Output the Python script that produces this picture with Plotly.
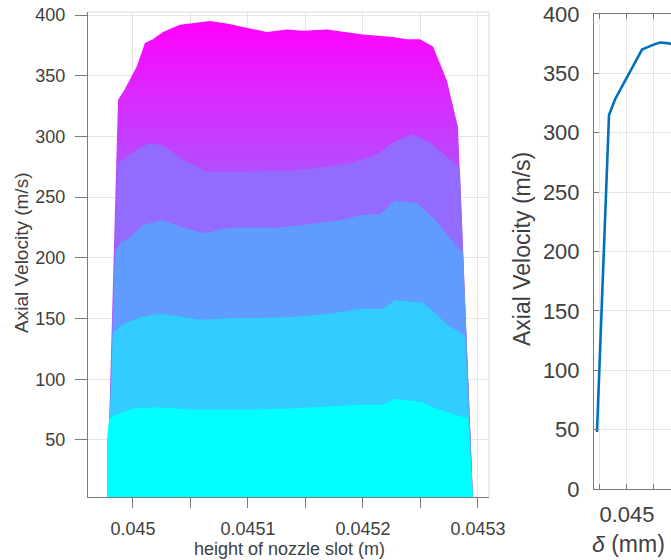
import plotly.graph_objects as go

# ---- velocity profiles across the nozzle slot (m, m/s), drawn back to front ----
slot_h_5 = [0.0449774, 0.0449870, 0.0449930, 0.0450035, 0.0450104, 0.0450174, 0.0450261,
            0.0450409, 0.0450583, 0.0450670, 0.0450817, 0.0451017, 0.0451165, 0.0451339,
            0.0451478, 0.0451687, 0.0452000, 0.0452261, 0.0452383, 0.0452496, 0.0452609,
            0.0452730, 0.0452826, 0.0452957]
vel_5 = [0, 330, 339, 358, 377, 380, 386, 392, 394, 395, 393, 389, 386, 388, 387, 388,
         384, 382, 380, 380, 374, 346, 308, 0]

slot_h_4 = [0.0449774, 0.0449870, 0.0450000, 0.0450130, 0.0450261, 0.0450435, 0.0450643,
            0.0451017, 0.0451365, 0.0451600, 0.0451887, 0.0452122, 0.0452261, 0.0452435,
            0.0452583, 0.0452730, 0.0452843, 0.0452957]
vel_4 = [0, 278, 287, 294, 293, 281, 271, 271, 272, 274, 278, 285, 295, 302, 295, 283, 274, 0]

slot_h_3 = [0.0449774, 0.0449843, 0.0449904, 0.0449974, 0.0450087, 0.0450252, 0.0450435,
            0.0450626, 0.0450783, 0.0450930, 0.0451278, 0.0451565, 0.0451800, 0.0451974,
            0.0452148, 0.0452278, 0.0452470, 0.0452609, 0.0452757, 0.0452870, 0.0452957]
vel_3 = [0, 206, 213, 217, 227, 231, 225, 220, 224, 225, 225, 228, 231, 235, 236, 247,
         245, 233, 216, 204, 0]

slot_h_2 = [0.0449774, 0.0449826, 0.0449913, 0.0450061, 0.0450235, 0.0450383, 0.0450583,
            0.0450783, 0.0451365, 0.0451713, 0.0451974, 0.0452174, 0.0452278, 0.0452522,
            0.0452609, 0.0452730, 0.0452887, 0.0452957]
vel_2 = [0, 138, 145, 151, 154, 152, 149, 150, 151, 154, 158, 158, 165, 163, 156, 145, 136, 0]

slot_h_1 = [0.0449774, 0.0449774, 0.0449791, 0.0449809, 0.0449887, 0.0450000, 0.0450209,
            0.0450496, 0.0451017, 0.0451365, 0.0451974, 0.0452174, 0.0452278, 0.0452522,
            0.0452609, 0.0452730, 0.0452861, 0.0452913, 0.0452957]
vel_1 = [0, 50, 66, 69, 72, 76, 77, 75, 75, 76, 79, 79, 84, 81, 77, 73, 69, 68, 0]

# ---- velocity along delta ----
delta = [0.0449444, 0.0449667, 0.0449778, 0.0450000, 0.0450278, 0.0450481, 0.0450611,
         0.0450741, 0.0450900]
vel_delta = [48, 315, 328, 347, 370, 374, 376, 375.5, 374]

# ---- tick labels ----
x_ticks = [0.045, 0.04505, 0.0451, 0.04515, 0.0452, 0.04525, 0.0453]
x_tick_text = ["0.045", "", "0.0451", "", "0.0452", "", "0.0453"]
y_ticks = [50, 100, 150, 200, 250, 300, 350, 400]
delta_ticks = [0.04495, 0.045, 0.04505]
delta_tick_text = ["", "0.045", ""]
y2_ticks = [0, 50, 100, 150, 200, 250, 300, 350, 400]

W, H = 671, 560
FONT = "Liberation Sans, Arial, Helvetica, sans-serif"
TXT = "#404040"
GRID = "#e6e6e6"
AX = "#7a7a7a"

fig = go.Figure()

# back layer with vertical colour gradient (cool colormap, upper part)
fig.add_trace(go.Scatter(
    x=slot_h_5, y=vel_5, mode="none", fill="toself",
    fillgradient=dict(type="vertical", start=270, stop=393,
                      colorscale=[[0, "#B34DFF"], [0.5, "#D92BFF"], [1, "#FF00FF"]]),
    hoverinfo="skip", showlegend=False, xaxis="x", yaxis="y"))
layers = [(slot_h_4, vel_4, "#946BFF"), (slot_h_3, vel_3, "#609CFF"),
          (slot_h_2, vel_2, "#33CCFF"), (slot_h_1, vel_1, "#00FFFF")]
for xs, ys, col in layers:
    fig.add_trace(go.Scatter(x=xs, y=ys, mode="none", fill="toself", fillcolor=col,
                             hoverinfo="skip", showlegend=False, xaxis="x", yaxis="y"))

fig.add_trace(go.Scatter(x=delta, y=vel_delta, mode="lines",
                         line=dict(color="#0072BD", width=2.6),
                         showlegend=False, xaxis="x2", yaxis="y2"))

tick_font_l = dict(family=FONT, size=18, color=TXT)
tick_font_r = dict(family=FONT, size=22, color=TXT)

fig.update_layout(
    width=W, height=H, margin=dict(l=0, r=0, t=0, b=0, autoexpand=False),
    paper_bgcolor="white", plot_bgcolor="white",
    xaxis=dict(domain=[88 / W, 489 / W], range=[0.0449609, 0.0453096], anchor="y",
               automargin=False,
               tickmode="array", tickvals=x_ticks, ticktext=x_tick_text,
               ticks="outside", ticklen=10, tickcolor=AX, tickwidth=1,
               showline=True, linecolor=AX, linewidth=1,
               showgrid=True, gridcolor=GRID, zeroline=False,
               tickfont=tick_font_l, ticklabelstandoff=5),
    yaxis=dict(domain=[1 - 497 / H, 1 - 12 / H], range=[3, 402.5], anchor="x",
               automargin=False,
               tickmode="array", tickvals=y_ticks,
               ticks="outside", ticklen=12, tickcolor=AX, tickwidth=1,
               showline=True, linecolor=AX, linewidth=1,
               showgrid=True, gridcolor=GRID, zeroline=False,
               tickfont=tick_font_l, ticklabelstandoff=6),
    xaxis2=dict(domain=[594 / W, 1], range=[0.0449389, 0.0450815], anchor="y2",
                automargin=False,
                tickmode="array", tickvals=delta_ticks, ticktext=delta_tick_text,
                ticks="inside", ticklen=5, tickcolor=AX,
                showline=True, mirror="ticks", linecolor=AX, linewidth=1,
                showgrid=True, gridcolor=GRID, zeroline=False,
                tickfont=tick_font_r, ticklabelstandoff=6),
    yaxis2=dict(domain=[1 - 489 / H, 1 - 14 / H], range=[0, 400], anchor="x2",
                automargin=False,
                tickmode="array", tickvals=y2_ticks,
                ticks="inside", ticklen=5, tickcolor=AX,
                showline=True, mirror=False, linecolor=AX, linewidth=1,
                showgrid=True, gridcolor=GRID, zeroline=False,
                tickfont=tick_font_r, ticklabelstandoff=9),
    shapes=[
        dict(type="line", xref="x domain", yref="y domain", x0=0, x1=1, y0=1, y1=1,
             line=dict(color="#d9d9d9", width=1)),
        dict(type="line", xref="x domain", yref="y domain", x0=1, x1=1, y0=0, y1=1,
             line=dict(color="#d9d9d9", width=1)),
    ],
    annotations=[
        dict(text="Axial Velocity (m/s)", xref="paper", yref="paper",
             x=22 / W, y=1 - 253 / H, textangle=-90, showarrow=False,
             xanchor="center", yanchor="middle", font=dict(family=FONT, size=19, color=TXT)),
        dict(text="height of nozzle slot (m)", xref="paper", yref="paper",
             x=289 / W, y=0, showarrow=False, borderpad=0,
             xanchor="center", yanchor="bottom", font=dict(family=FONT, size=18, color=TXT)),
        dict(text="Axial Velocity (m/s)", xref="paper", yref="paper",
             x=522 / W, y=1 - 249 / H, textangle=-90, showarrow=False,
             xanchor="center", yanchor="middle", font=dict(family=FONT, size=23, color=TXT)),
        dict(text="<i>δ</i> (mm)", xref="paper", yref="paper",
             x=628 / W, y=1 - 544 / H, showarrow=False,
             xanchor="center", yanchor="middle", font=dict(family=FONT, size=23, color=TXT)),
    ],
)

fig.write_html("out.html")
